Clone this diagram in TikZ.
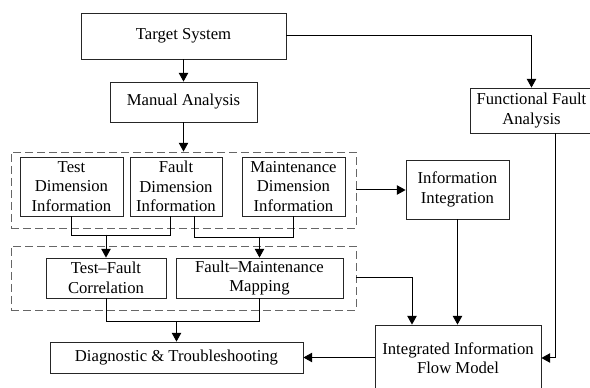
\documentclass[tikz,border=0pt]{standalone}
\usepackage{fontspec}
\setmainfont{Liberation Serif}
\usetikzlibrary{arrows.meta,calc}

\tikzset{
  box/.style={draw=black!85, line width=0.6pt, align=center, inner sep=1pt,
    font=\fontsize{12.5}{14.6}\selectfont},
  group/.style={draw=black!60, dashed, dash pattern=on 6pt off 3pt, line width=0.7pt},
  arr/.style={line width=0.75pt, -{Triangle[length=6.5pt,width=7pt]}},
  link/.style={line width=0.75pt}
}

\begin{document}
\begin{tikzpicture}[x=0.75pt, y=-0.75pt]
    \useasboundingbox (0,0) rectangle (590,388);

    % Top
    \node[box, minimum width=153.75pt, minimum height=34.5pt] (tgt) at (183.5,36) {Target System};
    \node[box, minimum width=110.25pt, minimum height=30pt] (man) at (183.5,102) {Manual Analysis};
    \node[box, minimum width=92.25pt, minimum height=33.75pt] (ffa) at (531.5,110.5) {Functional Fault\\Analysis};

    % Information dimensions
    \node[group, minimum width=258.75pt, minimum height=57pt] (grpA) at (183.5,190) {};
    \node[box, minimum width=77.25pt, minimum height=44.25pt] (tdi) at (71.5,186.5) {Test\\Dimension\\Information};
    \node[box, minimum width=69pt, minimum height=44.25pt] (fdi) at (176,186.5) {Fault\\Dimension\\Information};
    \node[box, minimum width=77.25pt, minimum height=44.25pt] (mdi) at (293.5,186.5) {Maintenance\\Dimension\\Information};
    \node[box, minimum width=77.25pt, minimum height=44.25pt] (ii) at (457.5,189.5) {Information\\Integration};

    % Correlation and mapping
    \node[group, minimum width=258.75pt, minimum height=48pt] (grpB) at (183.5,278) {};
    \node[box, minimum width=90pt, minimum height=30pt] (tfc) at (106,278) {Test--Fault\\Correlation};
    \node[box, minimum width=125.25pt, minimum height=30pt] (fmm) at (259.5,278) {Fault--Maintenance\\Mapping};

    % Bottom
    \node[box, minimum width=189.75pt, minimum height=23.25pt] (dt) at (176.5,357.5) {Diagnostic \& Troubleshooting};
    \node[box, minimum width=124.5pt, minimum height=49.5pt] (iifm) at (458,358) {Integrated Information\\Flow Model};

    % Connectors
    \draw[arr] (tgt.south) -- (man.north);
    \draw[arr] (man.south) -- (grpA.north);
    \draw[arr] (tgt.east) -| (ffa.north);
    \draw[arr] (grpA.east) -- (ii.west |- grpA.east);

    \draw[link] (tdi.south) |- ($(fdi.south)+(-6,19)$) -- ($(fdi.south)+(-6,0)$);
    \draw[arr] ($(tfc.north)+(0,-23)$) -- (tfc.north);
    \draw[link] ($(fdi.south)+(18,0)$) |- ($(mdi.south)+(0,21)$) -- (mdi.south);
    \draw[arr] ($(fmm.north)+(0,-21)$) -- (fmm.north);

    \draw[link] (tfc.south) |- ($(fmm.south)+(0,23)$) -- (fmm.south);
    \draw[arr] ($(dt.north)+(0,-20)$) -- (dt.north);

    \draw[arr] (grpB.east) -| ($(iifm.north)+(-46,0)$);
    \draw[arr] (ii.south) -- (ii.south |- iifm.north);
    \draw[arr] ($(ffa.south)+(24,0)$) |- (iifm.east);
    \draw[arr] (iifm.west |- dt.east) -- (dt.east);
\end{tikzpicture}
\end{document}
